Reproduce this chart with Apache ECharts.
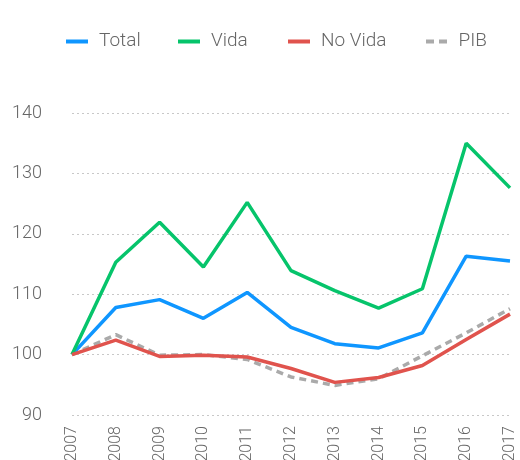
<!DOCTYPE html>
<html>
<head>
<meta charset="utf-8">
<script src="https://cdn.jsdelivr.net/npm/echarts@6/dist/echarts.min.js"></script>
<style>
  html, body { margin: 0; padding: 0; background: #fff; }
  #chart { width: 520px; height: 460px; }
</style>
</head>
<body>
<div id="chart"></div>
<script>
// datos (índice 2007 = 100)
var years = ['2007', '2008', '2009', '2010', '2011', '2012', '2013', '2014', '2015', '2016', '2017'];
var total = [100, 107.8, 109.1, 106.0, 110.3, 104.5, 101.8, 101.1, 103.6, 116.3, 115.5];
var vida = [100, 115.3, 121.9, 114.5, 125.2, 113.9, 110.6, 107.7, 110.9, 135.0, 127.6];
var noVida = [100, 102.4, 99.7, 99.9, 99.6, 97.7, 95.4, 96.2, 98.2, 102.5, 106.7];
var pib = [100, 103.3, 99.9, 100.0, 99.2, 96.3, 94.9, 96.0, 99.8, 103.6, 107.6];
var yTicks = [90, 100, 110, 120, 130, 140];
var legendNames = ['Total', 'Vida', 'No Vida', 'PIB'];

var chart = echarts.init(document.getElementById('chart'));

function serie(name, data, color, dashed) {
  return {
    name: name,
    type: 'line',
    data: data,
    symbol: 'none',
    color: color,
    lineStyle: { width: 3.5, color: color, type: dashed ? [7, 5] : 'solid' },
    z: dashed ? 1 : 2
  };
}

// una leyenda por elemento para fijar su posición
var legendLeft = [61, 173, 283, 421];
var legends = legendNames.map(function (n, i) {
  return {
    top: 27,
    left: legendLeft[i],
    itemWidth: 22,
    itemHeight: 4,
    textStyle: { color: '#666', fontSize: 19, fontWeight: 300, padding: [0, 0, 0, 6] },
    data: [{ name: n, icon: n === 'PIB' ? 'path://M0,0H8V4H0Z M13,0H21V4H13Z' : 'rect' }]
  };
});

chart.setOption({
  animation: false,
  textStyle: { fontFamily: 'Roboto' },
  legend: legends,
  grid: { left: 72, right: 10, top: 113, bottom: 45, outerBoundsMode: 'none', containLabel: false },
  xAxis: {
    type: 'category',
    data: years,
    boundaryGap: false,
    axisLine: { show: false },
    axisTick: { show: false },
    axisLabel: { rotate: 90, color: '#666', fontSize: 16, margin: 11, fontWeight: 300 }
  },
  yAxis: {
    type: 'value',
    min: yTicks[0],
    max: yTicks[yTicks.length - 1],
    interval: 10,
    axisLabel: { color: '#666', fontSize: 18, margin: 30, fontWeight: 300 },
    splitLine: { lineStyle: { color: '#c8c8c8', type: [2, 3], width: 1 } }
  },
  series: [
    serie('Total', total, '#0f96ff', false),
    serie('Vida', vida, '#06c46b', false),
    serie('No Vida', noVida, '#e0534d', false),
    serie('PIB', pib, '#aaaaaa', true)
  ]
});
</script>
</body>
</html>
